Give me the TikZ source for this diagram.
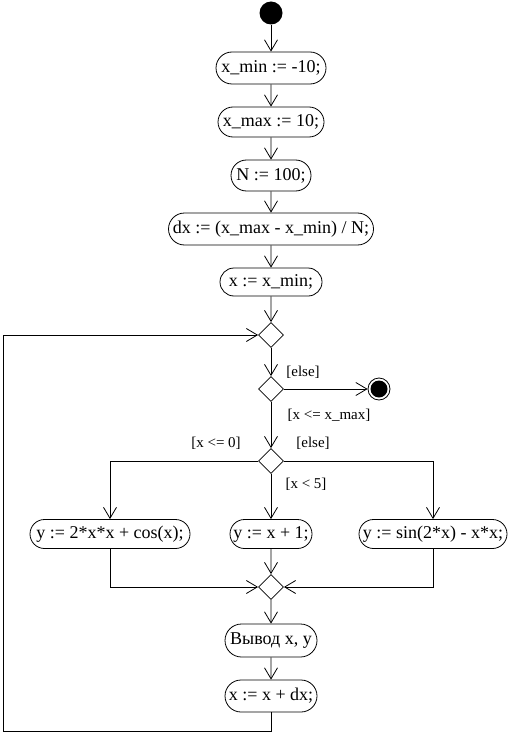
\documentclass[tikz,border=0pt]{standalone}
\usepackage{fontspec}
\setmainfont{Liberation Serif}
\usetikzlibrary{arrows.meta,shapes.misc,shapes.geometric}
\begin{document}
\begin{tikzpicture}[x=1pt,y=-1pt, line width=0.8pt,
 act/.style={draw, rounded rectangle, minimum height=31pt, inner xsep=2pt, font=\fontsize{18}{21}\selectfont},
 dec/.style={draw, diamond, minimum size=25pt, inner sep=0pt},
 lbl/.style={font=\fontsize{15}{17}\selectfont, inner sep=0pt},
 arr/.style={-{Straight Barb[length=11pt,width=13pt]}}]
\useasboundingbox (0,0) rectangle (511,733);
\node[fill, circle, minimum size=23pt, inner sep=0pt] (start) at (271,13) {};
\node[act, minimum width=114pt, minimum height=32pt] (a1) at (271,68) {x\_min := -10;};
\node[act, minimum width=110pt, minimum height=30pt] (a2) at (271,122) {x\_max := 10;};
\node[act, minimum width=84pt] (a3) at (271,175.5) {N := 100;};
\node[act, minimum width=209pt, minimum height=32pt] (a4) at (271,229) {dx := (x\_max - x\_min) / N;};
\node[act, minimum width=106pt, minimum height=28pt] (a5) at (271,282) {x := x\_min;};
\node[dec] (m1) at (271,335) {};
\node[dec] (d1) at (271,389) {};
\node[circle, draw, minimum size=22pt, inner sep=0pt,
  path picture={\fill (path picture bounding box.center) circle (8.5pt);}] (end) at (379,389) {};
\node[dec] (d2) at (271,461) {};
\node[act, minimum width=164pt, minimum height=29pt] (b1) at (110,534) {y := 2*x*x + cos(x);};
\node[act, minimum width=86pt, minimum height=29pt] (b2) at (271,534) {y := x + 1;};
\node[act, minimum width=152pt, minimum height=29pt] (b3) at (433,534) {y := sin(2*x) - x*x;};
\node[dec] (m2) at (271,587) {};
\node[act, minimum width=96pt, minimum height=33pt] (a6) at (271,640.5) {Вывод x, y};
\node[act, minimum width=96pt, minimum height=32pt] (a7) at (271,696) {x := x + dx;};
\node[lbl] (l1) at (303,372) {[else]};
\node[lbl] (l2) at (329,415) {[x <= x\_max]};
\node[lbl] (l3) at (216,443) {[x <= 0]};
\node[lbl] (l4) at (313,443) {[else]};
\node[lbl] (l5) at (306,484) {[x < 5]};
\coordinate (lp1) at (3,731);
\coordinate (lp2) at (3,335);
\draw[arr] (start) -- (a1);
\draw[arr] (a1) -- (a2);
\draw[arr] (a2) -- (a3);
\draw[arr] (a3) -- (a4);
\draw[arr] (a4) -- (a5);
\draw[arr] (a5) -- (m1);
\draw[arr] (m1) -- (d1);
\draw[arr] (d1) -- (end);
\draw[arr] (d1) -- (d2);
\draw[arr] (d2.west) -| (b1.north);
\draw[arr] (d2) -- (b2);
\draw[arr] (d2.east) -| (b3.north);
\draw[arr] (b1.south) |- (m2.west);
\draw[arr] (b2) -- (m2);
\draw[arr] (b3.south) |- (m2.east);
\draw[arr] (m2) -- (a6);
\draw[arr] (a6) -- (a7);
\draw[arr] (a7.south) |- (lp1) -- (lp2) -- (m1.west);
\end{tikzpicture}
\end{document}
